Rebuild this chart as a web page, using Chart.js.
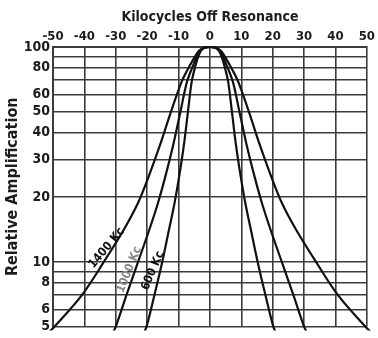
<!DOCTYPE html>
<html>
<head>
<meta charset="utf-8">
<script src="https://cdn.jsdelivr.net/npm/chart.js@4.4.1/dist/chart.umd.min.js"></script>
<style>
html,body{margin:0;padding:0;background:#fff;}
#wrap{width:378px;height:338px;position:relative;}
</style>
</head>
<body>
<div id="wrap"><canvas id="c" width="378" height="338"></canvas></div>
<script>
// Data (kc off resonance vs. relative amplification)
const offsets600  = [-21.5,-20.2,-17.7,-15.2,-13.1,-11.3,-9.8,-8.3,-7,-5.8,-4.5,-3.5,-2.5,-1.3,0,1.3,2.5,3.5,4.5,5.8,7,8.3,9.8,11.3,13.1,15.2,17.7,20.2,21.5];
const values600   = [4.5,5,7,10,14,18.7,25,35,50,69,83,92,97.5,99.6,100,99.6,97.5,92,83,69,50,35,25,18.7,14,10,7,5,4.5];
const offsets1000 = [-31.5,-30,-26.6,-22.9,-19.4,-16.6,-14.2,-11.7,-9.4,-7.3,-5.5,-4,-2.8,-1.4,0,1.4,2.8,4,5.5,7.3,9.4,11.7,14.2,16.6,19.4,22.9,26.6,30,31.5];
const values1000  = [4.5,5,7,10,14,18.7,25,35,50,69,81,91,97,99.6,100,99.6,97,91,81,69,50,35,25,18.7,14,10,7,5,4.5];
const offsets1400 = [-52,-49.5,-40.8,-33.8,-27.6,-23,-19.5,-15.9,-12.4,-9,-7,-5,-3.5,-1.8,0,1.8,3.5,5,7,9,12.4,15.9,19.5,23,27.6,33.8,40.8,49.5,52];
const values1400  = [4.6,5,7,10,14,18.7,25,35,50,69,79,89,96,99.4,100,99.4,96,89,79,69,50,35,25,18.7,14,10,7,5,4.6];

const xTicks = [-50,-40,-30,-20,-10,0,10,20,30,40,50];
const yGrid = [5,6,7,8,9,10,20,30,40,50,60,70,80,90,100];
const yLabels = [5,6,8,10,20,30,40,50,60,80,100];

const curveLabels = [
  {text:'1400 Kc', x:-32.9, y:11.6, angle:-50, color:'#111'},
  {text:'1000 Kc', x:-25.7, y:9.2, angle:-68, color:'#888'},
  {text:'600 Kc', x:-18.2, y:9.1, angle:-67, color:'#111'}
];

function pts(xs, ys){ return xs.map((v,i)=>({x:v, y:ys[i]})); }

const FONT = '"DejaVu Sans Condensed", "DejaVu Sans", sans-serif';
const INK = '#1c1c1c';
const GRID = '#3c3c3c';

const labelPlugin = {
  id:'curveLabels',
  afterDatasetsDraw(chart){
    const ctx = chart.ctx, xs = chart.scales.x, ys = chart.scales.y;
    ctx.save();
    ctx.font = 'bold 12px ' + FONT;
    ctx.textAlign = 'center';
    ctx.textBaseline = 'middle';
    curveLabels.forEach(l=>{
      const px = xs.getPixelForValue(l.x), py = ys.getPixelForValue(l.y);
      ctx.save();
      ctx.translate(px, py);
      ctx.rotate(l.angle*Math.PI/180);
      ctx.fillStyle = l.color;
      ctx.fillText(l.text, 0, 0);
      ctx.restore();
    });
    ctx.restore();
  }
};

const ds = (data)=>({
  data, borderColor:'#111', borderWidth:2.2, pointRadius:0,
  tension:0.35, fill:false, clip:4
});

new Chart(document.getElementById('c'), {
  type:'line',
  data:{datasets:[ds(pts(offsets600,values600)), ds(pts(offsets1000,values1000)), ds(pts(offsets1400,values1400))]},
  options:{
    responsive:false, animation:false, devicePixelRatio:1,
    layout:{padding:{left:0,right:4,top:0,bottom:0}},
    plugins:{legend:{display:false}, tooltip:{enabled:false}},
    scales:{
      x:{
        type:'linear', position:'top', min:-50, max:50,
        afterBuildTicks(s){ s.ticks = xTicks.map(v=>({value:v})); },
        afterFit(s){ s.height = 47; },
        grid:{color:GRID, lineWidth:1.6, drawTicks:false},
        border:{display:true, color:GRID, width:2},
        ticks:{color:INK, padding:3, maxRotation:0, autoSkip:false,
               font:{family:FONT, size:13, weight:'bold'}},
        title:{display:true, text:'Kilocycles Off Resonance', color:INK,
               font:{family:FONT, size:14, weight:'bold'}, padding:{top:9,bottom:0}}
      },
      y:{
        type:'logarithmic', min:5, max:100,
        afterBuildTicks(s){ s.ticks = yGrid.map(v=>({value:v})); },
        afterFit(s){ s.width = 53; },
        grid:{color:GRID, lineWidth:1.6, drawTicks:false},
        border:{display:true, color:GRID, width:2},
        ticks:{color:INK, padding:3, autoSkip:false,
               callback:(v)=> yLabels.includes(v) ? String(v) : '',
               font:{family:FONT, size:14, weight:'bold'}},
        title:{display:true, text:'Relative Amplification', color:INK,
               font:{family:FONT, size:16, weight:'bold'}, padding:{top:3,bottom:0}}
      }
    }
  },
  plugins:[labelPlugin]
});
</script>
</body>
</html>
